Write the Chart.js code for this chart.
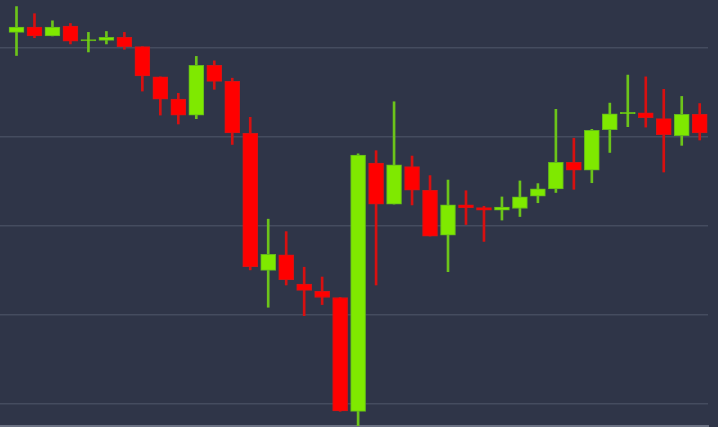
<!DOCTYPE html>
<html lang="en">
<head>
    <meta charset="UTF-8">
    <title>Candles</title>
    <script src="https://cdn.jsdelivr.net/npm/chart.js"></script>
    <style>
        html, body { margin: 0; padding: 0; background: #2f3548; }
        #box { width: 718px; height: 427px; position: relative; }
    </style>
</head>
<body>
    <div id="box"><canvas id="grafico"></canvas></div>
<script>
    // candle values (left to right)
    const abertura = [3817, 3823, 3813, 3824, 3807.5, 3808, 3811.5, 3801, 3767, 3742,
        3724, 3780, 3762, 3703.5, 3549.5, 3567, 3534, 3526, 3519, 3391,
        3670, 3624, 3666, 3639.5, 3589, 3623, 3620, 3617, 3619, 3633,
        3641, 3671, 3662, 3707.5, 3725.5, 3726.5, 3720, 3701, 3725];
    const fechamento = [3823, 3813, 3823, 3807, 3809, 3811.5, 3801, 3768, 3742, 3724,
        3780, 3762, 3704, 3553.6, 3567.5, 3539, 3527, 3519, 3391.5, 3679,
        3624, 3668, 3639.5, 3588, 3623, 3620, 3617, 3620.5, 3632, 3641,
        3671, 3662, 3707, 3725.5, 3727, 3721, 3702, 3725, 3704];
    const maxima = [3846, 3838, 3830, 3827, 3817, 3818, 3817, 3801, 3767, 3748.5,
        3790, 3785, 3765.5, 3721.5, 3607, 3593, 3553, 3542, 3519, 3680.5,
        3684, 3739, 3678, 3656, 3651, 3639, 3621.5, 3632, 3650, 3647,
        3730.5, 3698, 3708, 3737.5, 3769, 3767, 3753, 3745, 3737];
    const minima = [3791, 3811, 3813, 3804, 3795, 3804, 3798, 3751, 3724, 3714,
        3720, 3753, 3691, 3550, 3508, 3533, 3498.5, 3511, 3391, 3372,
        3533, 3624, 3623, 3588, 3548, 3601, 3582, 3606, 3610, 3625.5,
        3637, 3640.6, 3648, 3682, 3711, 3710.5, 3660, 3690, 3696];
    const linhasGrade = [3400, 3500, 3600, 3700, 3800];

    const verde = '#7fe900';
    const vermelho = '#ff0000';

    const sobe = abertura.map((a, i) => fechamento[i] >= a);

    const corpos = abertura.map((a, i) => ({ x: i, y: [a, fechamento[i]] }));
    const pavios = maxima.map((h, i) => ({ x: i, y: [minima[i], h] }));

    const ctx = document.getElementById('grafico').getContext('2d');
    new Chart(ctx, {
        type: 'bar',
        data: {
            datasets: [{
                label: 'corpo',
                data: corpos,
                order: 0,
                grouped: false,
                barThickness: 15,
                backgroundColor: sobe.map(s => s ? verde : vermelho),
                borderColor: sobe.map(s => s ? '#62b81c' : '#d41414'),
                borderWidth: 1,
                borderSkipped: false
            }, {
                label: 'pavio',
                data: pavios,
                order: 1,
                grouped: false,
                barThickness: 2,
                backgroundColor: sobe.map(s => s ? '#6cc41a' : '#d81010'),
                borderWidth: 0
            }]
        },
        options: {
            responsive: true,
            maintainAspectRatio: false,
            animation: false,
            layout: { padding: { left: 0, right: 10, top: 0, bottom: 1 } },
            plugins: {
                legend: { display: false },
                tooltip: { enabled: false }
            },
            scales: {
                x: {
                    type: 'linear',
                    offset: false,
                    min: -0.9177,
                    max: 38.461,
                    ticks: { display: false },
                    grid: { display: false, drawTicks: false, offset: false },
                    border: { display: true, color: '#6b7183', width: 2 }
                },
                y: {
                    min: 3374.5,
                    max: 3853.4,
                    afterBuildTicks: scale => {
                        scale.ticks = linhasGrade.map(v => ({ value: v }));
                    },
                    ticks: { display: false },
                    grid: { color: '#454c5f', lineWidth: 1.5, drawTicks: false },
                    border: { display: false }
                }
            }
        }
    });
</script>
</body>
</html>
